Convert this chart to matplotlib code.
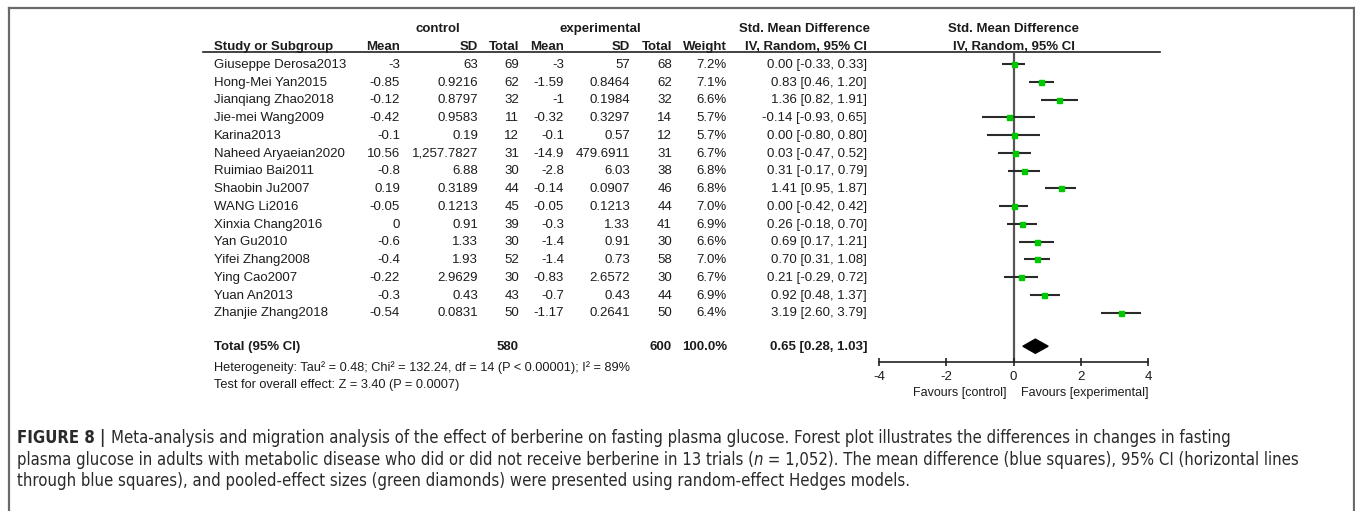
import matplotlib
matplotlib.use("Agg")
import matplotlib.pyplot as plt
from matplotlib.lines import Line2D
from matplotlib.patches import Polygon
from matplotlib import font_manager as fm

# ---------------- data ----------------
studies = ["Giuseppe Derosa2013", "Hong-Mei Yan2015", "Jianqiang Zhao2018", "Jie-mei Wang2009",
           "Karina2013", "Naheed Aryaeian2020", "Ruimiao Bai2011", "Shaobin Ju2007",
           "WANG Li2016", "Xinxia Chang2016", "Yan Gu2010", "Yifei Zhang2008",
           "Ying Cao2007", "Yuan An2013", "Zhanjie Zhang2018"]
mean_c = [-3, -0.85, -0.12, -0.42, -0.1, 10.56, -0.8, 0.19, -0.05, 0, -0.6, -0.4, -0.22, -0.3, -0.54]
sd_c = [63, 0.9216, 0.8797, 0.9583, 0.19, 1257.7827, 6.88, 0.3189, 0.1213, 0.91, 1.33, 1.93, 2.9629, 0.43, 0.0831]
n_c = [69, 62, 32, 11, 12, 31, 30, 44, 45, 39, 30, 52, 30, 43, 50]
mean_e = [-3, -1.59, -1, -0.32, -0.1, -14.9, -2.8, -0.14, -0.05, -0.3, -1.4, -1.4, -0.83, -0.7, -1.17]
sd_e = [57, 0.8464, 0.1984, 0.3297, 0.57, 479.6911, 6.03, 0.0907, 0.1213, 1.33, 0.91, 0.73, 2.6572, 0.43, 0.2641]
n_e = [68, 62, 32, 14, 12, 31, 38, 46, 44, 41, 30, 58, 30, 44, 50]
weight = [7.2, 7.1, 6.6, 5.7, 5.7, 6.7, 6.8, 6.8, 7.0, 6.9, 6.6, 7.0, 6.7, 6.9, 6.4]
smd = [0.00, 0.83, 1.36, -0.14, 0.00, 0.03, 0.31, 1.41, 0.00, 0.26, 0.69, 0.70, 0.21, 0.92, 3.19]
ci_lo = [-0.33, 0.46, 0.82, -0.93, -0.80, -0.47, -0.17, 0.95, -0.42, -0.18, 0.17, 0.31, -0.29, 0.48, 2.60]
ci_hi = [0.33, 1.20, 1.91, 0.65, 0.80, 0.52, 0.79, 1.87, 0.42, 0.70, 1.21, 1.08, 0.72, 1.37, 3.79]
total_c, total_e, total_w = 580, 600, 100.0
pooled = (0.65, 0.28, 1.03)
heterogeneity = "Heterogeneity: Tau² = 0.48; Chi² = 132.24, df = 14 (P < 0.00001); I² = 89%"
overall = "Test for overall effect: Z = 3.40 (P = 0.0007)"
xticks = [-4, -2, 0, 2, 4]
fav_left, fav_right = "Favours [control]", "Favours [experimental]"

# ---------------- layout ----------------
W, H = 1355, 511
fig = plt.figure(figsize=(W / 100, H / 100), dpi=100)
fig.patch.set_facecolor("white")
names = {f.name for f in fm.fontManager.ttflist}
TF = "Liberation Sans" if "Liberation Sans" in names else "DejaVu Sans"
TC = "#1c1c1c"
FS = 9.5

# caption font: prefer a condensed sans face if one is installed
def find_cond(bold, italic):
    best = None
    for f in fm.fontManager.ttflist:
        fn = f.fname.lower()
        if not ("condensed" in fn or "narrow" in fn or f.stretch in ("condensed", "semi-condensed")):
            continue
        if "mono" in fn or "serif" in fn.replace("sans", ""):
            continue
        if (f.style != "normal") != italic:
            continue
        w = f.weight if isinstance(f.weight, int) else (700 if "bold" in str(f.weight) else 400)
        if w in (300, 200, 100) or ("light" in fn) or ("extra" in fn) or ("semibold" in fn) or ("medium" in fn):
            continue
        if (w >= 600) == bold:
            best = f.fname
            if "sans" in fn:
                break
    return best

cond = {(b, i): find_cond(b, i) for b in (False, True) for i in (False, True)}

def capprops(weight, style, size):
    key = (weight == "bold", style == "italic")
    if cond.get(key):
        return fm.FontProperties(fname=cond[key], size=size)
    return fm.FontProperties(family=TF, weight=weight, style=style, size=size)

def fx(x):
    return x / W

def fy(y):
    return 1 - y / H

BASE = 3.8  # pixels from visual centre of a row to the text baseline

def txt(x, y, s, ha="left", bold=False, size=FS, color=TC, family=TF):
    return fig.text(fx(x), fy(y + BASE * size / FS), s, ha=ha, va="baseline", fontsize=size, color=color,
                    fontweight="bold" if bold else "normal", family=family)

def num(v):
    return format(v, ",.10g")

y0, dy = 64.0, 17.75
def rowy(i):
    return y0 + dy * i

# frame
for xs, ys in [([9, 1354], [8, 8]), ([9, 9], [8, 511]), ([1354, 1354], [8, 511])]:
    fig.add_artist(Line2D([fx(v) for v in xs], [fy(v) for v in ys], color="#6a6a6a", lw=1.6))

# headers
hy1, hy = 28, 46.5
txt(438, hy1, "control", ha="center", bold=True)
txt(600, hy1, "experimental", ha="center", bold=True)
txt(805, hy1, "Std. Mean Difference", ha="center", bold=True)
txt(1014, hy1, "Std. Mean Difference", ha="center", bold=True)
txt(214, hy, "Study or Subgroup", bold=True)
cols = [400, 478, 519, 564, 630, 672, 727, 867]
for x, s in zip(cols, ["Mean", "SD", "Total", "Mean", "SD", "Total", "Weight", "IV, Random, 95% CI"]):
    txt(x, hy, s, ha="right", bold=True)
txt(1014, hy, "IV, Random, 95% CI", ha="center", bold=True)
fig.add_artist(Line2D([fx(203), fx(1160)], [fy(52.5), fy(52.5)], color="#222222", lw=1.2))

# rows
for i, st in enumerate(studies):
    y = rowy(i)
    txt(214, y, st)
    vals = [num(mean_c[i]), num(sd_c[i]), str(n_c[i]), num(mean_e[i]), num(sd_e[i]), str(n_e[i]),
            f"{weight[i]:.1f}%", f"{smd[i]:.2f} [{ci_lo[i]:.2f}, {ci_hi[i]:.2f}]"]
    for x, s in zip(cols, vals):
        txt(x, y, s, ha="right")

TOT = 15.9
ty = rowy(TOT)
txt(214, ty, "Total (95% CI)", bold=True)
txt(cols[2], ty, str(total_c), ha="right", bold=True)
txt(cols[5], ty, str(total_e), ha="right", bold=True)
txt(cols[6], ty, f"{total_w:.1f}%", ha="right", bold=True)
txt(cols[7], ty, f"{pooled[0]:.2f} [{pooled[1]:.2f}, {pooled[2]:.2f}]", ha="right", bold=True)
txt(214, 367.5, heterogeneity, size=9.2)
txt(214, 384.5, overall, size=9.2)

# forest axes
x_left, x_right = 879, 1148
y_top, y_bot = 52.5, 362.3
ax = fig.add_axes([fx(x_left), fy(y_bot), (x_right - x_left) / W, (y_bot - y_top) / H])
ax.set_xlim(-4, 4)
ax.set_ylim((y_bot - y0) / dy, (y_top - y0) / dy)
ax.patch.set_alpha(0)
for sp in ["top", "right", "left"]:
    ax.spines[sp].set_visible(False)
ax.spines["bottom"].set_color("#222222")
ax.spines["bottom"].set_linewidth(1.2)
ax.set_yticks([])
ax.set_xticks(xticks)
ax.set_xticklabels([str(t) for t in xticks], fontsize=FS, color=TC, family=TF)
ax.tick_params(axis="x", direction="inout", length=6, width=1.2, color="#222222", pad=3)
ax.axvline(0, color="#555555", lw=1.6, zorder=1)
for i in range(len(studies)):
    ax.plot([ci_lo[i], ci_hi[i]], [i, i], color="#2a2a2a", lw=1.5, solid_capstyle="butt", zorder=2)
    ax.plot([smd[i]], [i], marker="s", ms=3.6, color="#00c800", mec="#00c800", zorder=3)
est, lo, hi = pooled
dh = 0.4
ax.add_patch(Polygon([[lo, TOT], [est, TOT - dh], [hi, TOT], [est, TOT + dh]],
                     closed=True, facecolor="black", edgecolor="black", zorder=3))

txt(1006, 392, fav_left, ha="right", size=9)
txt(1021, 392, fav_right, ha="left", size=9)

# caption
renderer = fig.canvas.get_renderer()
CAPC = "#2a2a2a"

def seg_line(x, y, segs, size, draw=True):
    cur = x
    for s, w, st in segs:
        fp = capprops(w, st, size)
        t = fig.text(fx(cur), fy(y), s, ha="left", va="center_baseline", color=CAPC, fontproperties=fp)
        bb = t.get_window_extent(renderer=renderer)
        cur += bb.width
        if not draw:
            t.remove()
    return cur

line1 = [("FIGURE 8 | ", "bold", "normal"),
         ("Meta-analysis and migration analysis of the effect of berberine on fasting plasma glucose. Forest plot illustrates the differences in changes in fasting", "normal", "normal")]
line2 = [("plasma glucose in adults with metabolic disease who did or did not receive berberine in 13 trials (", "normal", "normal"),
         ("n", "normal", "italic"),
         (" = 1,052). The mean difference (blue squares), 95% CI (horizontal lines", "normal", "normal")]
line3 = [("through blue squares), and pooled-effect sizes (green diamonds) were presented using random-effect Hedges models.", "normal", "normal")]

x0 = 17
w1 = seg_line(x0, 436, line1, 10, draw=False) - x0
w2 = seg_line(x0, 458, line2, 10, draw=False) - x0
csize = 10 * min((1255 - x0) / w1, (1298 - x0) / w2)
seg_line(x0, 436, line1, csize)
seg_line(x0, 458, line2, csize)
seg_line(x0, 479, line3, csize)

fig.savefig("out.png", dpi=100, facecolor="white")
